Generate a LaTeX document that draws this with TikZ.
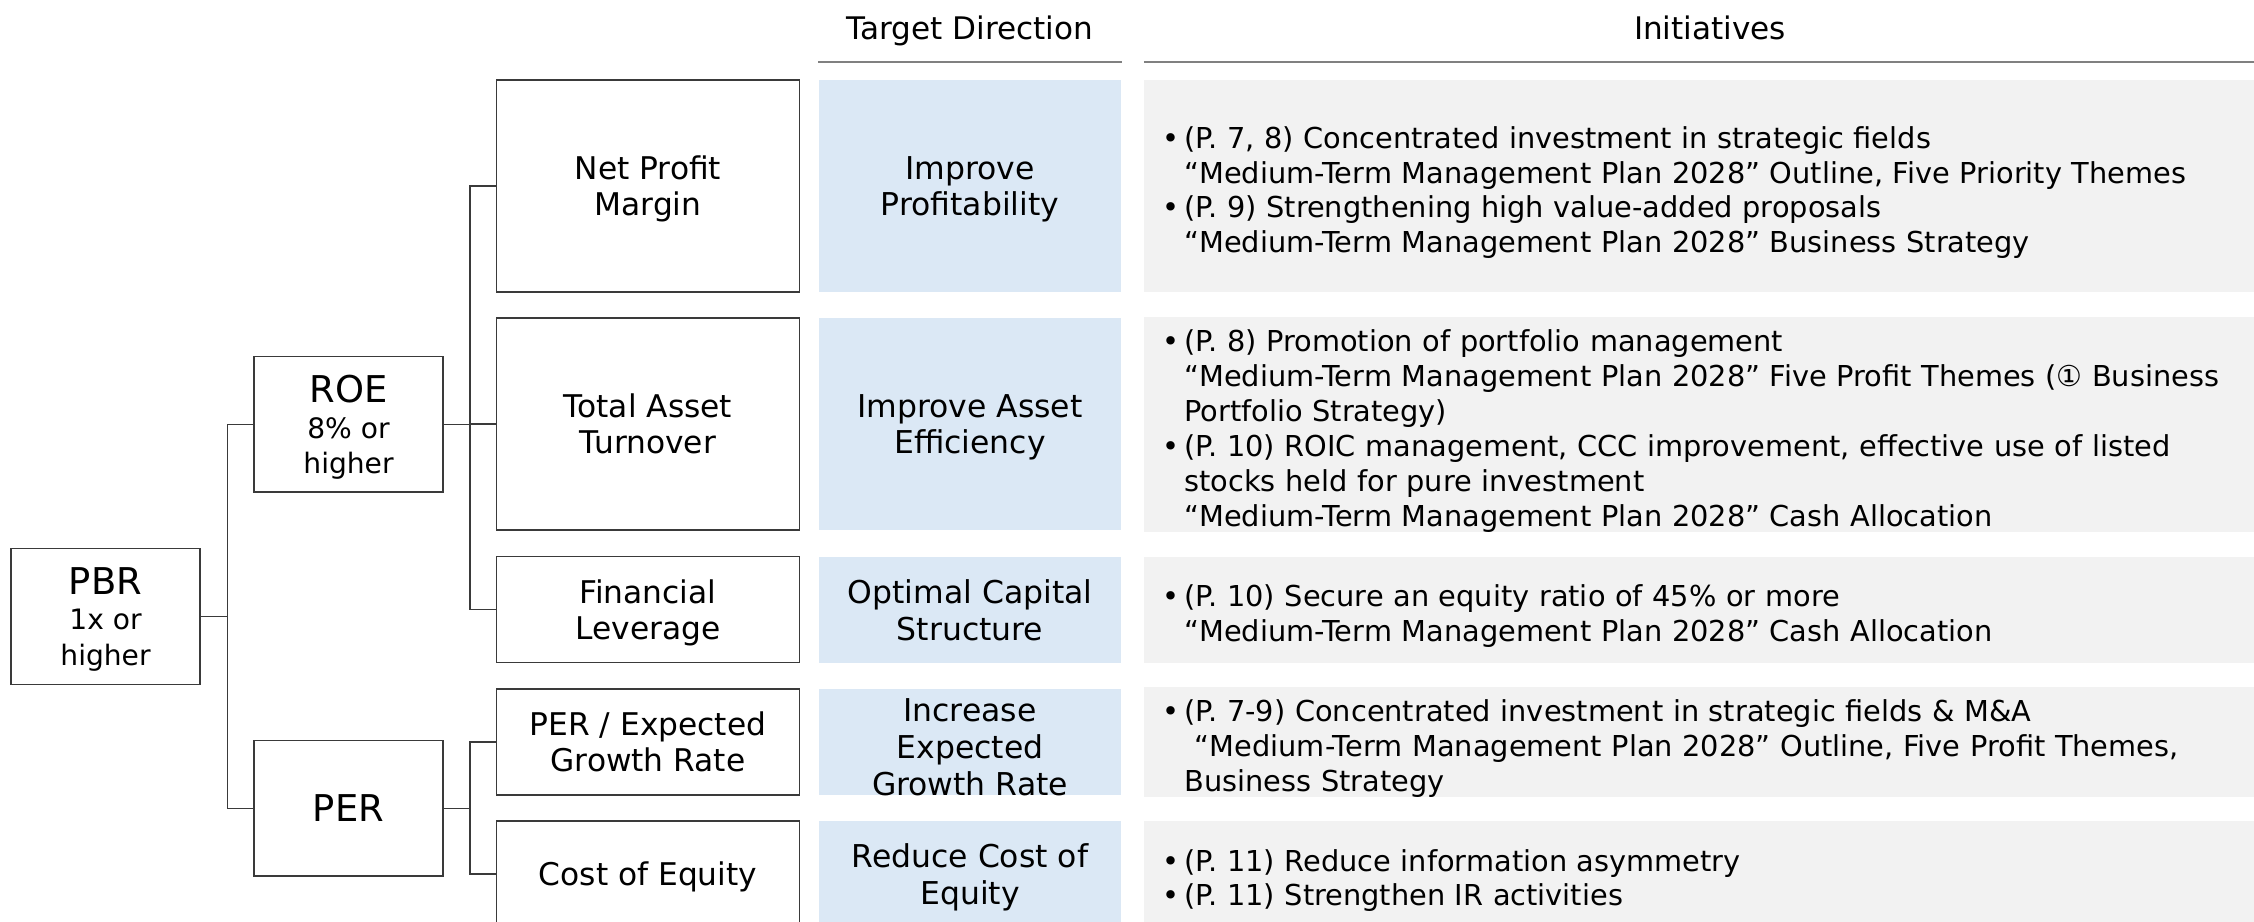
\documentclass[tikz,border=0pt]{standalone}
\usepackage{fontspec}
\setmainfont{DejaVu Sans}
\usepackage{xcolor}
\definecolor{targetblue}{HTML}{DBE8F5}
\definecolor{initgray}{HTML}{F2F2F2}
\definecolor{rulegray}{HTML}{808080}
\definecolor{boxline}{HTML}{3A3A3A}
\usetikzlibrary{positioning}

% bullet item: text sits on the left skip, bullet hangs into the margin
\newcommand{\bul}{\par\noindent\llap{\makebox[0.44cm][l]{•}}}

\begin{document}
\begin{tikzpicture}[x=0.02cm, y=-0.02cm,
  kpi/.style={rectangle, draw=boxline, line width=0.8pt, minimum width=3.78cm, minimum height=2.71cm,
              align=center, font=\fontsize{16}{20}\selectfont, inner sep=2pt, text depth=0pt},
  metric/.style={rectangle, draw=boxline, line width=0.8pt, minimum width=6.06cm,
                 align=center, font=\fontsize{17.8}{20.5}\selectfont, inner sep=2pt, text depth=0pt},
  target/.style={rectangle, fill=targetblue, minimum width=6.05cm,
                 align=center, font=\fontsize{17.9}{21}\selectfont, inner sep=2pt, text depth=0pt},
  initiative/.style={rectangle, fill=initgray, anchor=west, text width=23cm, inner xsep=0.36cm,
                     inner ysep=0pt, align=left, font=\fontsize{16.4}{19.9}\selectfont,
                     execute at begin node={\leftskip=0.44cm}},
  header/.style={minimum height=1.36cm, inner sep=0pt, text height=12.9pt, text depth=0pt,
                 font=\fontsize{17.7}{20}\selectfont},
  rule/.style={draw=rulegray, line width=1pt},
  branch/.style={draw=boxline, line width=0.8pt},
]
\path[use as bounding box, clip] (0,0) rectangle (2254,921);

% Column headers
\node[header, minimum width=6.05cm] (hdtgt) at (970,28) {Target Direction};
\node[header, minimum width=22.64cm] (hdini) at (1710,28) {Initiatives};
\draw[rule] (hdtgt.south west) -- (hdtgt.south east);
\draw[rule] (hdini.south west) -- (hdini.south east);

% Valuation tree
\node[kpi] (pbr) at (105.5,616.5) {{\fontsize{21}{24}\selectfont PBR}\\[0pt]1x or\\higher};
\node[kpi] (roe) at (348.5,424.4) {{\fontsize{21}{24}\selectfont ROE}\\[0pt]8\% or\\higher};
\node[kpi] (per) at (348.5,808.3) {{\fontsize{21}{24}\selectfont PER}};

\node[metric, minimum height=4.24cm] (npm) at (648,186) {Net Profit\\Margin};
\node[metric, minimum height=4.24cm] (tat) at (648,424) {Total Asset\\Turnover};
\node[metric, minimum height=2.12cm] (flv) at (648,609.7) {Financial\\Leverage};
\node[metric, minimum height=2.12cm] (pgr) at (648,742) {PER / Expected\\Growth Rate};
\node[metric, minimum height=2.12cm] (coe) at (648,874) {Cost of Equity};

\draw[branch] (pbr.east) -- ++(27,0) coordinate (pbrfork) |- (roe.west);
\draw[branch] (pbrfork) |- (per.west);
\draw[branch] (roe.east) -- ++(26.5,0) coordinate (roefork);
\foreach \n in {npm,tat,flv} \draw[branch] (roefork) |- (\n.west);
\draw[branch] (per.east) -- ++(26.5,0) coordinate (perfork);
\foreach \n in {pgr,coe} \draw[branch] (perfork) |- (\n.west);

% Target direction column
\node[target, minimum height=4.24cm] (tg1) at (970,186) {Improve\\Profitability};
\node[target, minimum height=4.24cm] (tg2) at (970,424) {Improve Asset\\Efficiency};
\node[target, minimum height=2.12cm] (tg3) at (970,609.7) {Optimal Capital\\Structure};
\node[target, minimum height=2.12cm] (tg4) at (970,742)
  {\raisebox{-9.5pt}{\smash{\begin{tabular}{@{}c@{}}Increase\\Expected\\Growth Rate\end{tabular}}}};
\node[target, minimum height=2.12cm] (tg5) at (970,874) {Reduce Cost of\\Equity};

% Initiatives column
\node[initiative, minimum height=4.24cm] (in1) at (1144,186)
  {\bul (P. 7, 8) Concentrated investment in strategic fields\\
   “Medium-Term Management Plan 2028” Outline, Five Priority Themes
   \bul (P. 9) Strengthening high value-added proposals\\
   “Medium-Term Management Plan 2028” Business Strategy};
\node[initiative, minimum height=4.22cm] (in2) at (1144,424.5)
  {\bul (P. 8) Promotion of portfolio management\\
   “Medium-Term Management Plan 2028” Five Profit Themes (① Business\\
   Portfolio Strategy)
   \bul (P. 10) ROIC management, CCC improvement, effective use of listed\\
   stocks held for pure investment\\
   “Medium-Term Management Plan 2028” Cash Allocation};
\node[initiative, minimum height=2.12cm] (in3) at (1144,609.7)
  {\bul (P. 10) Secure an equity ratio of 45\% or more\\
   “Medium-Term Management Plan 2028” Cash Allocation};
\node[initiative, minimum height=2.12cm] (in4) at (1144,742)
  {\bul (P. 7-9) Concentrated investment in strategic fields \& M\&A\\
   \hspace*{6pt}“Medium-Term Management Plan 2028” Outline, Five Profit Themes,\\
   Business Strategy};
\node[initiative, minimum height=2.12cm] (in5) at (1144,874)
  {\bul (P. 11) Reduce information asymmetry
   \bul (P. 11) Strengthen IR activities};

\end{tikzpicture}
\end{document}
